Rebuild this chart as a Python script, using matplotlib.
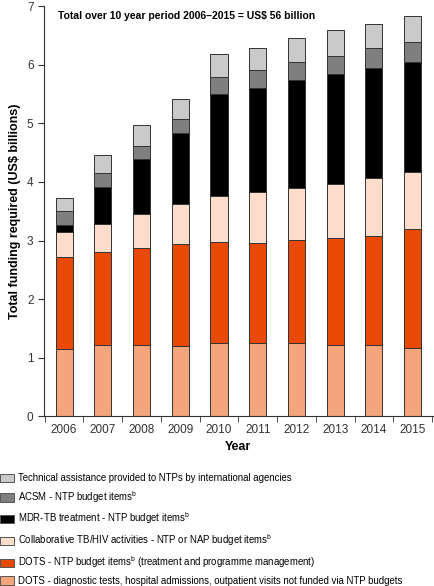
import numpy as np
import matplotlib
matplotlib.use("Agg")
import matplotlib.pyplot as plt
from matplotlib.patches import Patch

plt.rcParams['font.family'] = ['Liberation Sans', 'DejaVu Sans']

years = ["2006", "2007", "2008", "2009", "2010", "2011", "2012", "2013", "2014", "2015"]
# stacked segments, bottom to top (US$ billions)
dots_other = [1.14, 1.21, 1.21, 1.20, 1.24, 1.24, 1.24, 1.21, 1.21, 1.17]
dots_ntp   = [1.58, 1.59, 1.66, 1.74, 1.73, 1.71, 1.77, 1.83, 1.87, 2.02]
tbhiv      = [0.42, 0.48, 0.58, 0.68, 0.79, 0.88, 0.88, 0.92, 0.98, 0.98]
mdr        = [0.12, 0.63, 0.94, 1.21, 1.74, 1.78, 1.85, 1.89, 1.89, 1.88]
acsm       = [0.24, 0.24, 0.23, 0.24, 0.29, 0.30, 0.31, 0.30, 0.34, 0.34]
tech       = [0.23, 0.31, 0.36, 0.35, 0.40, 0.38, 0.41, 0.45, 0.41, 0.45]

labels = [
    "DOTS - diagnostic tests, hospital admissions, outpatient visits not funded via NTP budgets",
    "DOTS - NTP budget items$^{\\mathregular{b}}$ (treatment and programme management)",
    "Collaborative TB/HIV activities - NTP or NAP budget items$^{\\mathregular{b}}$",
    "MDR-TB treatment - NTP budget items$^{\\mathregular{b}}$",
    "ACSM - NTP budget items$^{\\mathregular{b}}$",
    "Technical assistance provided to NTPs by international agencies",
]
colors = ["#f5a57c", "#e84a05", "#fcdccb", "#000000", "#7f7f7f", "#cacaca"]
series = [dots_other, dots_ntp, tbhiv, mdr, acsm, tech]

fig = plt.figure(figsize=(4.35, 5.86), dpi=100)
ax = fig.add_axes([0.101, 0.290, 0.894, 0.699])

x = np.arange(len(years))
bottom = np.zeros(len(years))
handles = []
for vals, col, lab in zip(series, colors, labels):
    ax.bar(x, vals, width=0.44, bottom=bottom, color=col, edgecolor="#333333", linewidth=0.7)
    bottom += np.array(vals)
    handles.append(Patch(facecolor=col, edgecolor="#555555", linewidth=0.7, label=lab))

ax.set_xlim(-0.52, 9.52)
ax.set_ylim(0, 7)
ax.set_yticks(range(8))
ax.set_xticks(x)
ax.set_xticklabels(years)
ax.set_xticks(np.arange(-0.5, 10, 1.0), minor=True)
ax.tick_params(axis="x", which="major", length=0, labelsize=8.5, colors="#333333", pad=6)
ax.tick_params(axis="x", which="minor", length=4, color="#333333", direction="out")
ax.tick_params(axis="y", length=4, labelsize=8.5, colors="#333333", direction="out")
for s in ["top", "right"]:
    ax.spines[s].set_visible(False)
for s in ["left", "bottom"]:
    ax.spines[s].set_color("#333333")

ax.set_xlabel("Year", fontsize=9, fontweight="bold", labelpad=3)
ax.set_ylabel("Total funding required (US$ billions)", fontsize=9, fontweight="bold", labelpad=4)
ax.text(0.035, 0.99, "Total over 10 year period 2006\u20132015 = US$ 56 billion",
        transform=ax.transAxes, fontsize=7.5, fontweight="bold", va="top", ha="left")

fig.legend(handles[::-1], [h.get_label() for h in handles[::-1]],
           loc="upper left", bbox_to_anchor=(0.0, 1 - 473 / 586), frameon=False,
           fontsize=6.9, handlelength=1.45, handleheight=0.95, handletextpad=0.45,
           labelspacing=0.62, borderaxespad=0, borderpad=0)

fig.savefig("out.png", dpi=100)
